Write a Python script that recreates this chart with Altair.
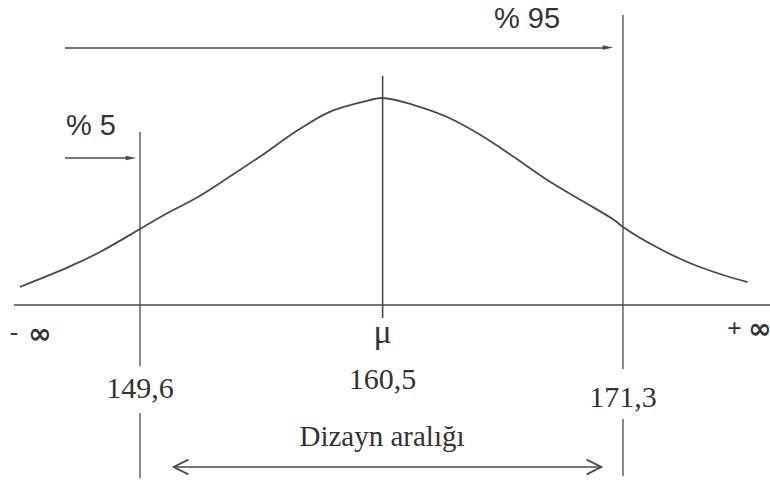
import altair as alt
import pandas as pd

# Bell curve of the body dimension (relative height, peak = 1)
curve_x = [144.2, 146.3, 147.8, 149.6, 150.6, 152.2, 153.6, 155.1, 156.7, 158.1,
           159.6, 160.5, 161.9, 163.4, 164.9, 166.4, 167.9, 169.4, 170.9, 171.3,
           172.8, 174.3, 175.8, 176.9]
curve_h = [0.087, 0.179, 0.256, 0.367, 0.430, 0.522, 0.618, 0.725, 0.845, 0.932,
           0.981, 1.000, 0.966, 0.908, 0.821, 0.715, 0.604, 0.507, 0.411, 0.377,
           0.280, 0.203, 0.145, 0.111]

# Percentile limits and mean
p5_value = 149.6
mean_value = 160.5
p95_value = 171.3
value_labels = ["149,6", "160,5", "171,3"]
pct_labels = ["% 5", "% 95"]
range_label = "Dizayn aralığı"

INK = "#4a4a4a"
TEXT = "#333333"
SERIF = "Liberation Serif"
SANS = "Liberation Sans"

W, H = 770, 484
xs = alt.Scale(domain=[143.31, 177.904], nice=False, zero=False)
ys = alt.Scale(domain=[-0.8647, 1.4734], nice=False, zero=False)

one = pd.DataFrame({"k": [0]})
curve_df = pd.DataFrame({"x": curve_x, "h": curve_h})

curve = alt.Chart(curve_df).mark_line(
    interpolate="catmull-rom", color=INK, strokeWidth=1.8
).encode(
    x=alt.X("x:Q", scale=xs, axis=None),
    y=alt.Y("h:Q", scale=ys, axis=None),
)

baseline = alt.Chart(one).mark_rule(color=INK, strokeWidth=1.6).encode(
    x=alt.value(14), x2=alt.value(770),
    y=alt.Y(datum=0, scale=ys, axis=None),
)


def vrule(v, top, bottom, width=1.3):
    return alt.Chart(one).mark_rule(color=INK, strokeWidth=width).encode(
        x=alt.X(datum=v, scale=xs, axis=None),
        y=alt.value(top), y2=alt.value(bottom),
    )


def hrule(x1, x2, y, width=1.6):
    return alt.Chart(one).mark_rule(color=INK, strokeWidth=width).encode(
        x=alt.value(x1), x2=alt.value(x2), y=alt.value(y),
    )


def head(x, y, path, filled, size):
    return alt.Chart(one).mark_point(
        shape=path, filled=filled, size=size, color=INK,
        strokeWidth=1.8, opacity=1,
    ).encode(x=alt.value(x), y=alt.value(y))


def label(text, x, y, size, font=SERIF, align="center", weight="normal"):
    enc_x = alt.X(datum=x, scale=xs, axis=None) if isinstance(x, float) else alt.value(x)
    return alt.Chart(one).mark_text(
        text=text, fontSize=size, font=font, color=TEXT, align=align,
        baseline="middle", fontWeight=weight,
    ).encode(x=enc_x, y=alt.value(y))


RIGHT_TRI = "M-1,-0.45L1,0L-1,0.45Z"
LEFT_CHEV = "M1,-1L-1,0L1,1"
RIGHT_CHEV = "M-1,-1L1,0L-1,1"

layers = [
    baseline,
    curve,
    # limit lines
    vrule(p5_value, 132, 366), vrule(p5_value, 413, 478),
    vrule(mean_value, 76, 318, 1.6),
    vrule(p95_value, 15, 369), vrule(p95_value, 419, 476),
    # cumulative share arrows
    hrule(65, 606, 48), head(608, 47.5, RIGHT_TRI, True, 110),
    hrule(65, 128, 158), head(131, 158, RIGHT_TRI, True, 110),
    # design range arrow
    hrule(174, 601, 467), head(181, 467, LEFT_CHEV, False, 220),
    head(594, 467, RIGHT_CHEV, False, 220),
    # texts
    label(pct_labels[1], 527, 19, 29, SANS),
    label(pct_labels[0], 91, 126, 29, SANS),
    label("-", 10, 333, 24, SERIF, "left", "bold"),
    label("∞", 28, 335, 28, "DejaVu Sans", "left", "bold"),
    label("+", 727, 329, 26, SERIF, "left", "bold"),
    label("∞", 748, 330, 28, "DejaVu Sans", "left", "bold"),
    label("μ", mean_value, 333, 34),
    label(value_labels[0], p5_value, 389, 30),
    label(value_labels[1], mean_value, 380, 30),
    label(value_labels[2], p95_value, 398, 30),
    label(range_label, 382, 437, 29),
]

chart = alt.layer(*layers).properties(
    width=W, height=H, padding=0, autosize=alt.AutoSizeParams(type="none"),
    background="white",
).configure_view(stroke=None)

chart.save("out.html", embed_options={"renderer": "svg", "actions": False})
